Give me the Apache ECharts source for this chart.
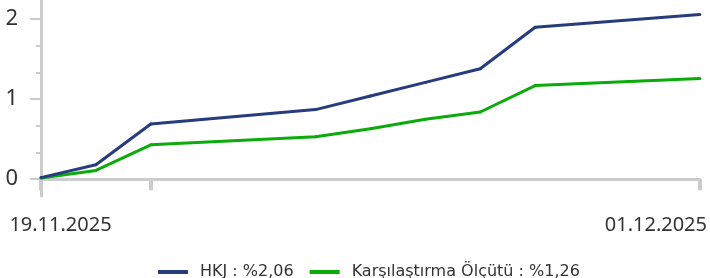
<!DOCTYPE html>
<html>
<head>
<meta charset="utf-8">
<script src="https://cdn.jsdelivr.net/npm/echarts@6/dist/echarts.min.js"></script>
<style>
  html, body { margin: 0; padding: 0; background: #fff; }
  #chart { width: 710px; height: 278px; }
</style>
</head>
<body>
<div id="chart"></div>
<script>
// işlem günleri
const dates = ['2025-11-19', '2025-11-20', '2025-11-21', '2025-11-24', '2025-11-25',
  '2025-11-26', '2025-11-27', '2025-11-28', '2025-12-01'];
const hkj = [0.02, 0.18, 0.69, 0.87, 1.04, 1.21, 1.38, 1.90, 2.06];
const benchmark = [0.015, 0.11, 0.43, 0.53, 0.63, 0.75, 0.84, 1.17, 1.26];
const seriesNames = ['HKJ : %2,06', 'Karşılaştırma Ölçütü : %1,26'];

const xTickDates = ['2025-11-19', '2025-11-21', '2025-12-01'];
const xLabelDates = ['2025-11-19', '2025-12-01'];
const xLabels = ['19.11.2025', '01.12.2025'];
const yLabels = [0, 1, 2];
const yMinorTicks = [1 / 3, 2 / 3, 4 / 3, 5 / 3];

// gün numarası (UTC), zaman dilimi farkı olmasın diye
const day = s => {
  const p = s.split('-').map(Number);
  return Date.UTC(p[0], p[1] - 1, p[2]) / 86400000;
};
const pairs = vals => dates.map((d, i) => [day(d), vals[i]]);

const myChart = echarts.init(document.getElementById('chart'));

const axisGray = '#cccccc';

let option = {
  animation: false,
  grid: { left: 41, right: 4, top: 0, bottom: 82 },
  legend: {
    data: seriesNames,
    left: 153,
    top: 259,
    icon: 'rect',
    itemWidth: 30,
    itemHeight: 4,
    itemGap: 16,
    textStyle: {
      fontFamily: 'DejaVu Sans',
      fontSize: 16,
      color: '#333',
      padding: [0, 0, 0, 7],
    },
  },
  xAxis: {
    type: 'value',
    min: day(dates[0]),
    max: day(dates[dates.length - 1]),
    axisLine: { lineStyle: { color: axisGray, width: 3 } },
    axisTick: {
      show: true,
      customValues: xTickDates.map(day),
      length: 11,
      lineStyle: { color: axisGray, width: 4 },
    },
    splitLine: { show: false },
    axisLabel: {
      customValues: xLabelDates.map(day),
      margin: 19,
      formatter: function (value) {
        const i = xLabelDates.map(day).indexOf(value);
        return i === 0 ? '{l|' + xLabels[0] + '}' : '{r|' + xLabels[1] + '}';
      },
      rich: {
        l: { fontFamily: 'Noto Sans', fontSize: 20, color: '#333', padding: [0, 0, 0, 39] },
        r: { fontFamily: 'Noto Sans', fontSize: 20, color: '#333', padding: [0, 88, 0, 0] },
      },
    },
  },
  yAxis: [
    {
      type: 'value',
      position: 'left',
      min: -0.21,
      max: 2.24,
      axisLine: { show: true, lineStyle: { color: axisGray, width: 3 } },
      axisTick: {
        show: true,
        customValues: yLabels,
        length: 11,
        lineStyle: { color: axisGray, width: 2 },
      },
      axisLabel: {
        customValues: yLabels,
        margin: 23,
        fontFamily: 'Noto Sans',
        fontSize: 22,
        color: '#333',
      },
      splitLine: { show: false },
    },
    {
      type: 'value',
      position: 'left',
      min: -0.21,
      max: 2.24,
      axisLine: { show: false },
      axisTick: {
        show: true,
        customValues: yMinorTicks,
        length: 5,
        lineStyle: { color: axisGray, width: 2 },
      },
      axisLabel: { show: false },
      splitLine: { show: false },
    },
  ],
  series: [
    {
      name: seriesNames[0],
      type: 'line',
      data: pairs(hkj),
      color: '#263c7c',
      symbol: 'circle',
      symbolSize: 3,
      lineStyle: { width: 3 },
      z: 3,
    },
    {
      name: seriesNames[1],
      type: 'line',
      data: pairs(benchmark),
      color: '#0aab0a',
      symbol: 'circle',
      symbolSize: 3,
      lineStyle: { width: 3 },
      z: 2,
    },
  ],
};

myChart.setOption(option);
</script>
</body>
</html>
